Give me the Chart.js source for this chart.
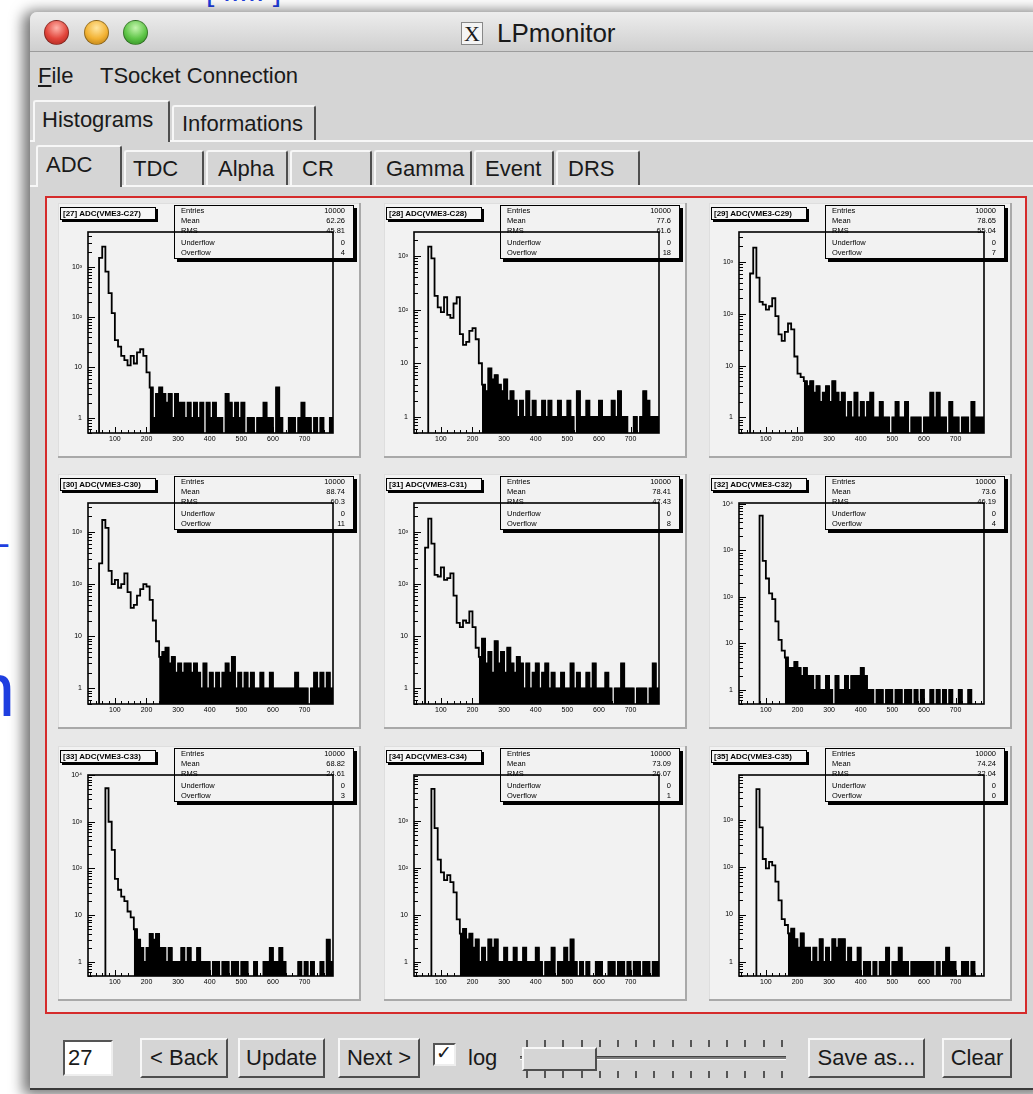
<!DOCTYPE html>
<html>
<head>
<meta charset="utf-8">
<title>LPmonitor</title>
<script src="https://cdn.jsdelivr.net/npm/chart.js@4.4.1/dist/chart.umd.min.js"></script>
<style>
	body { margin: 0; width: 1033px; height: 1094px; overflow: hidden; position: relative; background: #fff; font-family: "Liberation Sans", Arial, sans-serif; color: #1a1a1a; }
	.a { position: absolute; box-sizing: border-box; }
	.t { position: absolute; font-size: 22px; line-height: 1; white-space: nowrap; }
	#win { left: 30px; top: 12px; width: 1015px; height: 1078px; background: #d5d5d5; box-shadow: -4px 2px 14px 3px rgba(0,0,0,0.55); border-radius: 7px 0 0 0; border-bottom: 2px solid #3a3a3a; }
	#titlebar { left: 30px; top: 12px; width: 1010px; height: 40px; background: linear-gradient(#ededed, #cfcfcf); border-bottom: 1px solid #9c9c9c; border-radius: 7px 0 0 0; }
	.light { width: 25px; height: 25px; border-radius: 50%; top: 20px; border: 1px solid rgba(0,0,0,0.35); }
	.tab { background: #d5d5d5; border-top: 2px solid #f7f7f7; border-left: 2px solid #f7f7f7; border-right: 2px solid #4e4e4e; border-radius: 3px 3px 0 0; }
	.btn { background: #d5d5d5; border: 2px solid; border-color: #f7f7f7 #4e4e4e #4e4e4e #f7f7f7; text-align: center; font-size: 22px; line-height: 35px; }
	#area { left: 45px; top: 196px; width: 982px; height: 818px; border: 2px solid #d52b2b; background: #e8e8e8; }
	.panel { position: absolute; width: 303px; height: 255px; background: #f2f2f2; box-shadow: inset -2px -2px 0 #a9a9a9, inset 1px 1px 0 #dedede; }
	.panel canvas { position: absolute; left: 0; top: 0; }
	.hname { position: absolute; left: 2px; top: 4px; width: 96px; height: 13px; box-sizing: border-box; border: 1px solid #000; box-shadow: 2px 2px 0 #000; background: #f6f6f6; font-size: 8px; font-weight: bold; line-height: 11px; padding-left: 2px; white-space: nowrap; overflow: hidden; color: #000; }
	.stats { position: absolute; left: 116px; top: 2px; width: 180px; height: 54px; box-sizing: border-box; border: 1px solid #000; box-shadow: 3px 3px 0 #000; font-size: 7.5px; color: #000; }
	.stats div { position: absolute; left: 6px; right: 8px; height: 10px; line-height: 10px; }
	.stats span { position: absolute; right: 0; }
</style>
</head>
<body>
<div class="t" style="left:-27px; top:652px; font-size:76px; color:#1f3fe0;">n</div>
<div class="t" style="left:-14px; top:522px; font-size:40px; color:#1f3fe0;">–</div>
<div class="t" style="left:206px; top:-24px; font-size:30px; color:#1f3fe0;">[ ..... ]</div>

<div id="win" class="a"></div>
<div id="titlebar" class="a"></div>
<div class="a light" style="left:44px; background:radial-gradient(circle at 50% 30%, #ffb3aa, #e2453b 55%, #a3231b);"></div>
<div class="a light" style="left:84px; background:radial-gradient(circle at 50% 30%, #ffe6a0, #f2b233 55%, #b07711);"></div>
<div class="a light" style="left:123px; background:radial-gradient(circle at 50% 30%, #c4f5ae, #5ec547 55%, #2c861f);"></div>
<div class="a" style="left:461px; top:22px; width:22px; height:23px; border:1px solid #888; background:#f4f4f4;"></div>
<div class="t" style="left:464px; top:23px; font-family:'Liberation Serif', serif; font-size:22px;">X</div>
<div class="t" style="left:497px; top:20px; font-size:26px;">LPmonitor</div>

<div class="t" style="left:38px; top:65px;"><u>F</u>ile</div>
<div class="t" style="left:100px; top:65px;">TSocket Connection</div>

<div class="a" style="left:30px; top:140px; width:1010px; height:2px; background:#f7f7f7;"></div>
<div class="a tab" style="left:33px; top:100px; width:137px; height:42px;"></div>
<div class="t" style="left:42px; top:109px;">Histograms</div>
<div class="a tab" style="left:172px; top:105px; width:144px; height:35px;"></div>
<div class="t" style="left:182px; top:113px;">Informations</div>

<div class="a" style="left:30px; top:185px; width:1010px; height:2px; background:#f7f7f7;"></div>
<div class="a tab" style="left:36px; top:145px; width:86px; height:42px;"></div>
<div class="t" style="left:46px; top:154px;">ADC</div>
<div class="a tab" style="left:124px; top:150px; width:80px; height:35px;"></div>
<div class="t" style="left:133px; top:158px;">TDC</div>
<div class="a tab" style="left:206px; top:150px; width:82px; height:35px;"></div>
<div class="t" style="left:218px; top:158px;">Alpha</div>
<div class="a tab" style="left:290px; top:150px; width:82px; height:35px;"></div>
<div class="t" style="left:302px; top:158px;">CR</div>
<div class="a tab" style="left:374px; top:150px; width:98px; height:35px;"></div>
<div class="t" style="left:386px; top:158px;">Gamma</div>
<div class="a tab" style="left:474px; top:150px; width:80px; height:35px;"></div>
<div class="t" style="left:485px; top:158px;">Event</div>
<div class="a tab" style="left:556px; top:150px; width:84px; height:35px;"></div>
<div class="t" style="left:568px; top:158px;">DRS</div>

<div id="area" class="a"></div>
<div id="panels"></div>

<div class="a" style="left:63px; top:1040px; width:50px; height:36px; background:#fff; border:2px solid; border-color:#555 #eee #eee #555;"></div>
<div class="t" style="left:68px; top:1047px;">27</div>
<div class="a btn" style="left:140px; top:1038px; width:88px; height:40px;">&lt; Back</div>
<div class="a btn" style="left:238px; top:1038px; width:87px; height:40px;">Update</div>
<div class="a btn" style="left:338px; top:1038px; width:82px; height:40px;">Next &gt;</div>
<div class="a" style="left:433px; top:1043px; width:23px; height:23px; background:#fff; border:2px solid; border-color:#555 #eee #eee #555;"></div>
<div class="t" style="left:436px; top:1043px; font-size:19px;">✓</div>
<div class="t" style="left:468px; top:1047px;">log</div>
<div class="a" style="left:526px; top:1040px; width:260px; height:7px; background:repeating-linear-gradient(90deg, #555 0 2px, transparent 2px 18.2px);"></div>
<div class="a" style="left:526px; top:1071px; width:260px; height:7px; background:repeating-linear-gradient(90deg, #555 0 2px, transparent 2px 18.2px);"></div>
<div class="a" style="left:520px; top:1056px; width:266px; height:4px; background:#7a7a7a; border-top:1px solid #444; border-bottom:1px solid #fff;"></div>
<div class="a btn" style="left:522px; top:1047px; width:75px; height:24px;"></div>
<div class="a btn" style="left:808px; top:1038px; width:117px; height:40px;">Save as...</div>
<div class="a btn" style="left:942px; top:1038px; width:70px; height:40px;">Clear</div>

<script>
// counts per 10-channel bin, first bin starts at ADC 40
var ADC_27 = [0,1500,2500,800,300,120,35,26,17,14,11,17,12,20,23,17,8,4,1,3,4,
	3,2,3,1,3,2,2,1,2,1, 2,1,2,0,2,1,2,1,1,0, 3,2,1,2,1,2,0,1,1,0, 1,1,2,1,1,0,4,1,0,0, 1,1,0,1,2,1,1,0,1,0, 1,0,0,1,0];
var ADC_28 = [0,0,1500,900,180,110,90,170,80,70,130,170,35,22,25,40,45,28,10,4,3,
	8,5,6,4,3,5,2,3,2,1, 2,1,3,1,2,1,1,2,1,2, 1,1,2,1,1,2,1,0,3,1, 1,2,1,1,1,2,1,1,1,2, 1,3,1,1,0,0,1,0,1,3, 2,1,1,1,0];
var ADC_29 = [0,600,1900,500,170,150,120,140,200,90,40,30,45,65,50,15,7,6,5,4,5,
	3,4,2,3,4,2,5,3,2,3, 1,2,1,3,1,2,1,2,3,1, 1,2,1,1,0,1,2,1,1,2, 0,1,1,1,0,1,1,3,1,3, 1,1,0,2,1,1,0,1,1,0, 2,1,1,1,0];
var ADC_30 = [0,250,1700,1200,180,100,120,85,100,160,70,35,40,60,80,100,90,50,20,8,4,
	5,6,3,4,2,3,2,3,3,2, 3,2,1,3,1,2,1,2,1,2, 3,2,4,1,2,1,2,1,2,1, 1,2,1,1,2,1,1,1,1,1, 1,1,2,1,1,1,0,1,2,1, 2,1,2,1,1];
var ADC_31 = [0,500,1800,600,150,140,210,120,130,160,60,18,15,20,18,30,15,6,4,9,3,
	5,2,8,3,5,2,6,3,2,4, 3,1,3,1,2,3,1,2,3,1, 2,1,1,2,1,1,3,1,2,1, 1,2,1,3,1,1,1,2,1,0, 1,1,3,1,1,1,0,1,1,1, 0,1,3,1,0];
var ADC_32 = [0,0,0,0,5600,600,250,120,90,30,12,7,5,3,3,4,3,2,3,2,2,
	1,2,1,1,2,1,0,2,1,1, 2,1,2,2,2,3,2,1,1,0, 1,1,0,1,1,0,1,1,0,1, 1,0,1,0,1,0,0,1,0,1, 0,1,0,1,0,0,1,0,0,1, 0,0,0,0,0];
var ADC_33 = [0,0,0,5200,1000,250,60,35,25,20,12,9,5,3,2,1,2,4,3,4,2,
	2,1,2,1,1,1,2,1,2,1, 1,2,1,1,1,0,1,1,0,1, 1,0,1,1,0,1,1,0,0,1, 0,0,1,1,2,1,1,2,1,0, 0,0,0,1,0,1,0,1,0,0, 1,0,3,1,0];
var ADC_34 = [0,0,0,4800,700,150,80,55,70,50,30,8,4,5,3,4,2,3,1,2,1,
	3,2,3,1,1,2,1,1,2,1, 1,2,1,1,1,2,1,0,1,1, 2,0,1,1,2,1,3,1,0,1, 0,1,0,0,1,1,0,0,1,1, 0,1,1,0,1,0,1,1,0,1, 1,0,1,1,0];
var ADC_35 = [0,0,0,4500,700,150,95,130,110,50,20,8,6,4,5,3,2,4,2,2,1,
	2,1,3,1,2,1,3,2,3,3, 1,2,1,1,2,0,1,1,0,1, 0,1,1,2,0,1,1,2,1,1, 0,1,1,1,1,1,1,1,0,1, 0,1,2,1,1,0,0,1,1,0, 1,0,0,0,0];

var HIST_COUNTS = [ADC_27, ADC_28, ADC_29, ADC_30, ADC_31, ADC_32, ADC_33, ADC_34, ADC_35];
var HIST_TITLES = ['[27] ADC(VME3-C27)', '[28] ADC(VME3-C28)', '[29] ADC(VME3-C29)',
	'[30] ADC(VME3-C30)', '[31] ADC(VME3-C31)', '[32] ADC(VME3-C32)',
	'[33] ADC(VME3-C33)', '[34] ADC(VME3-C34)', '[35] ADC(VME3-C35)'];
var ENTRIES = ['10000', '10000', '10000', '10000', '10000', '10000', '10000', '10000', '10000'];
var MEANS = ['62.26', '77.6', '78.65', '88.74', '78.41', '73.6', '68.82', '73.09', '74.24'];
var RMSS = ['45.81', '61.6', '55.04', '60.3', '47.43', '46.19', '24.61', '26.07', '32.04'];
var UNDERFLOWS = ['0', '0', '0', '0', '0', '0', '0', '0', '0'];
var OVERFLOWS = ['4', '18', '7', '11', '8', '4', '3', '1', '0'];
var Y_MAX = [4900, 2800, 3800, 3600, 3600, 10500, 10000, 9500, 9000];
var Y_TICK_LABELS = ['1', '10', '10²', '10³', '10⁴'];
var X_TICK_LABELS = ['100', '200', '300', '400', '500', '600', '700'];

var BIN_LOW = 40, BIN_WIDTH = 10, X_MIN = 15, X_MAX = 790, Y_MIN = 0.5, EMPTY = 0.01;
var TAIL_LEVEL = 5;
var PANEL_LEFT = [58, 384, 709], PANEL_TOP = [203, 474, 746];

Chart.defaults.font.family = '"Liberation Sans", Arial, sans-serif';
Chart.defaults.color = '#000';

var rootFrame = {
	id: 'rootFrame',
	afterDatasetsDraw: function (chart) {
		var ctx = chart.ctx, area = chart.chartArea;
		var xs = chart.scales.x, ys = chart.scales.y;
		ctx.save();
		ctx.strokeStyle = '#000';
		ctx.lineWidth = 1;
		ctx.beginPath();
		xs.ticks.forEach(function (tick) {
			var px = Math.round(xs.getPixelForValue(tick.value)) + 0.5;
			ctx.moveTo(px, area.bottom);
			ctx.lineTo(px, area.bottom - (tick.major ? 6 : 3));
		});
		ys.ticks.forEach(function (tick) {
			var py = Math.round(ys.getPixelForValue(tick.value)) + 0.5;
			ctx.moveTo(area.left, py);
			ctx.lineTo(area.left + (tick.major ? 7 : 4), py);
		});
		ctx.stroke();
		ctx.lineWidth = 1.6;
		ctx.strokeRect(area.left, area.top, area.right - area.left, area.bottom - area.top);
		ctx.restore();
	}
};

function histPoints(counts, from) {
	var pts = [];
	for (var i = from; i < counts.length; i++) {
		pts.push({ x: BIN_LOW + i * BIN_WIDTH, y: counts[i] > 0 ? counts[i] : EMPTY });
	}
	pts.push({ x: BIN_LOW + counts.length * BIN_WIDTH, y: EMPTY });
	return pts;
}

// the noisy low-count tail reads as a solid black mass on the screen
function tailStart(counts) {
	var peak = counts.indexOf(Math.max.apply(null, counts));
	for (var i = peak; i < counts.length; i++) {
		if (counts[i] <= TAIL_LEVEL) return i;
	}
	return counts.length;
}

function linTicks(scale) {
	var ticks = [];
	for (var v = 20; v <= scale.max; v += 20) {
		ticks.push({ value: v, major: v % 100 === 0 });
	}
	scale.ticks = ticks;
}

function logTicks(scale) {
	var ticks = [];
	for (var d = 0.1; d <= scale.max; d *= 10) {
		for (var m = 1; m < 10; m++) {
			var v = m * d;
			if (v >= scale.min && v <= scale.max) ticks.push({ value: v, major: m === 1 });
		}
	}
	scale.ticks = ticks;
}

function logLabel(value) {
	var e = Math.log10(value);
	return Math.abs(e - Math.round(e)) < 1e-9 ? Y_TICK_LABELS[Math.round(e)] : '';
}

function linLabel(value) {
	return value % 100 === 0 ? X_TICK_LABELS[value / 100 - 1] : '';
}

function buildPanel(i) {
	var counts = HIST_COUNTS[i];
	var panel = document.createElement('div');
	panel.className = 'panel';
	panel.style.left = PANEL_LEFT[i % 3] + 'px';
	panel.style.top = PANEL_TOP[Math.floor(i / 3)] + 'px';
	panel.innerHTML = '<canvas width="303" height="255"></canvas>' +
		'<div class="hname">' + HIST_TITLES[i] + '</div>' +
		'<div class="stats">' +
			'<div style="top:0px">Entries<span>' + ENTRIES[i] + '</span></div>' +
			'<div style="top:10px">Mean<span>' + MEANS[i] + '</span></div>' +
			'<div style="top:20px">RMS<span>' + RMSS[i] + '</span></div>' +
			'<div style="top:32px">Underflow<span>' + UNDERFLOWS[i] + '</span></div>' +
			'<div style="top:42px">Overflow<span>' + OVERFLOWS[i] + '</span></div>' +
		'</div>';
	document.getElementById('panels').appendChild(panel);

	new Chart(panel.querySelector('canvas'), {
		type: 'line',
		data: {
			datasets: [{
				data: histPoints(counts, 0),
				borderColor: '#000',
				borderWidth: 1.8,
				pointRadius: 0,
				stepped: true,
				fill: false
			}, {
				data: histPoints(counts, tailStart(counts)),
				borderColor: '#000',
				borderWidth: 1,
				backgroundColor: '#000',
				pointRadius: 0,
				stepped: true,
				fill: 'start'
			}]
		},
		options: {
			responsive: false,
			animation: false,
			events: [],
			layout: { padding: { top: 29, right: 28, left: 0, bottom: 0 } },
			plugins: { legend: { display: false }, tooltip: { enabled: false } },
			scales: {
				x: {
					type: 'linear', min: X_MIN, max: X_MAX,
					grid: { display: false, drawTicks: false },
					border: { display: false },
					afterBuildTicks: linTicks,
					afterFit: function (s) { s.height = 25; },
					ticks: { autoSkip: false, maxRotation: 0, padding: 2, font: { size: 7 }, callback: linLabel }
				},
				y: {
					type: 'logarithmic', min: Y_MIN, max: Y_MAX[i],
					grid: { display: false, drawTicks: false },
					border: { display: false },
					afterBuildTicks: logTicks,
					afterFit: function (s) { s.width = 30; },
					ticks: { autoSkip: false, padding: 6, font: { size: 7 }, callback: logLabel }
				}
			}
		},
		plugins: [rootFrame]
	});
}

for (var i = 0; i < HIST_COUNTS.length; i++) {
	buildPanel(i);
}
</script>
</body>
</html>
